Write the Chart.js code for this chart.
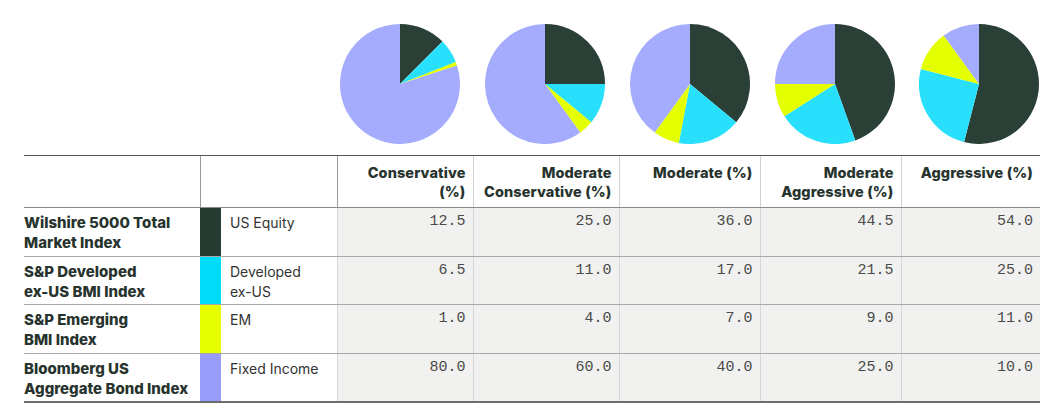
<!DOCTYPE html>
<html>
<head>
<meta charset="utf-8">
<script src="https://cdn.jsdelivr.net/npm/chart.js@4.4.1/dist/chart.umd.min.js"></script>
<style>
  html, body { margin: 0; padding: 0; background: #fff; }
  body { width: 1048px; height: 413px; position: relative; overflow: hidden; font-family: Inter, "Noto Sans", sans-serif; color: #27332d; }
  .pie { position: absolute; top: 24px; width: 120px; height: 120px; }
  table { position: absolute; left: 24px; top: 155px; border-collapse: collapse; table-layout: fixed; }
  td, th { padding: 0; vertical-align: top; }
  thead th { height: 52px; border-top: 1.5px solid #555; border-bottom: 1.5px solid #8a8a8a; font-weight: 800; font-size: 14.5px; line-height: 19px; text-align: right; padding: 7px 7px 0 0; box-sizing: border-box; letter-spacing: 0.1px; }
  tbody td { height: 48.5px; border-bottom: 1px solid #a8a8a8; box-sizing: border-box; }
  tbody tr:last-child td { border-bottom: 2px solid #6c6c6c; }
  td.idx { font-weight: 800; font-size: 15px; line-height: 20px; padding-top: 5px; letter-spacing: 0px; }
  td.sw { padding: 0; }
  td.name { font-size: 14px; line-height: 20px; padding: 5px 0 0 9px; color: #333; }
  td.val { background: #f1f2f0; text-align: right; padding: 5px 7px 0 0; font-family: "Liberation Mono", monospace; font-size: 15px; color: #4a4a4a; border-left: 1px solid #d6d6d6; }
  th.vh { border-left: 1px solid #d2d2d2; }
  th.sp { border-left: 1px solid #9a9a9a; }
</style>
</head>
<body>
<canvas class="pie" id="p0" width="120" height="120" style="left:340px"></canvas>
<canvas class="pie" id="p1" width="120" height="120" style="left:485px"></canvas>
<canvas class="pie" id="p2" width="120" height="120" style="left:630px"></canvas>
<canvas class="pie" id="p3" width="120" height="120" style="left:775px"></canvas>
<canvas class="pie" id="p4" width="120" height="120" style="left:919px"></canvas>
<table id="tbl"></table>
<script>
// portfolios (columns)
const portfolios = ['Conservative (%)', 'Moderate Conservative (%)', 'Moderate (%)', 'Moderate Aggressive (%)', 'Aggressive (%)'];
const headerLines = [['Conservative', '(%)'], ['Moderate', 'Conservative (%)'], ['Moderate (%)'], ['Moderate', 'Aggressive (%)'], ['Aggressive (%)']];
// asset classes (rows)
const indexNames = [['Wilshire 5000 Total', 'Market Index'], ['S&P Developed', 'ex-US BMI Index'], ['S&P Emerging', 'BMI Index'], ['Bloomberg US', 'Aggregate Bond Index']];
const assetClasses = ['US Equity', 'Developed ex-US', 'EM', 'Fixed Income'];
const assetLines = [['US Equity'], ['Developed', 'ex-US'], ['EM'], ['Fixed Income']];
// weights per asset class, one entry per portfolio
const usEquity   = [12.5, 25.0, 36.0, 44.5, 54.0];
const developed  = [6.5, 11.0, 17.0, 21.5, 25.0];
const em         = [1.0, 4.0, 7.0, 9.0, 11.0];
const fixedIncome = [80.0, 60.0, 40.0, 25.0, 10.0];
const series = [usEquity, developed, em, fixedIncome];

const pieColors = ['#2a3f36', '#29e0fc', '#e3ff00', '#a5abfd'];
const swatchColors = ['#263c33', '#00dcfa', '#e6ff00', '#989cf8'];
const colWidths = [176, 21, 116, 136, 146, 141, 141, 139];

// pies
portfolios.forEach((p, i) => {
  new Chart(document.getElementById('p' + i), {
    type: 'pie',
    data: {
      labels: assetClasses,
      datasets: [{ data: series.map(s => s[i]), backgroundColor: pieColors, borderWidth: 0 }]
    },
    options: {
      responsive: false,
      animation: false,
      layout: { padding: 0 },
      plugins: { legend: { display: false }, tooltip: { enabled: false } }
    }
  });
});

// table
const tbl = document.getElementById('tbl');
let html = '<colgroup>' + colWidths.map(w => `<col style="width:${w}px">`).join('') + '</colgroup>';
html += '<thead><tr><th></th><th class="sp" colspan="2"></th>';
headerLines.forEach((h, i) => { html += `<th class="vh${i === 0 ? ' sp' : ''}">${h.join('<br>')}</th>`; });
html += '</tr></thead><tbody>';
assetClasses.forEach((a, r) => {
  html += `<tr><td class="idx">${indexNames[r].join('<br>')}</td>`;
  html += `<td class="sw" style="background:${swatchColors[r]}"></td>`;
  html += `<td class="name">${assetLines[r].join('<br>')}</td>`;
  series[r].forEach(v => { html += `<td class="val">${v.toFixed(1)}</td>`; });
  html += '</tr>';
});
html += '</tbody>';
tbl.innerHTML = html;
tbl.style.width = colWidths.reduce((a, b) => a + b, 0) + 'px';
</script>
</body>
</html>
